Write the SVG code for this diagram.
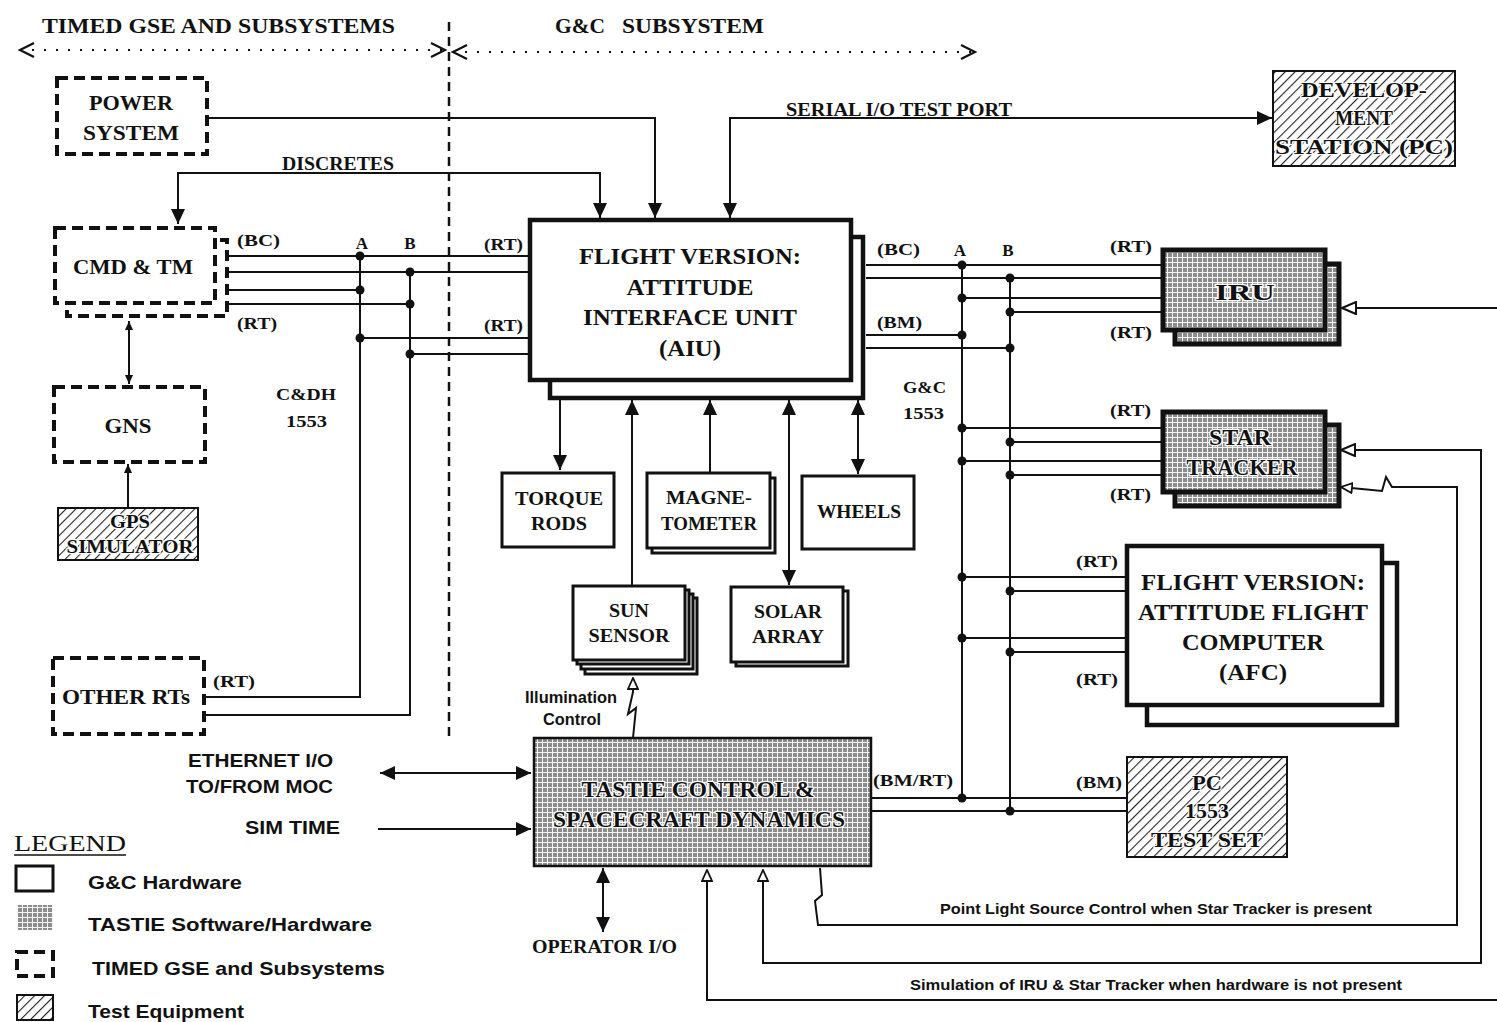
<svg xmlns="http://www.w3.org/2000/svg" width="1497" height="1022" viewBox="0 0 1497 1022">
<style>
.bg{fill:#fff}
.t{font-family:"Liberation Serif",serif;fill:#111}
.b{font-weight:bold}
.m{text-anchor:middle}
.sn{font-family:"Liberation Sans",sans-serif;font-weight:bold;fill:#111}
.halo{stroke:#fff;stroke-width:2.5px;paint-order:stroke;stroke-linejoin:round}
.ln{fill:none;stroke:#111;stroke-width:2}
.dash{fill:#fff;stroke:#111;stroke-width:4;stroke-dasharray:11 6}
.solid{fill:#fff;stroke:#111;stroke-width:3}
.thick{fill:#fff;stroke:#111;stroke-width:4.5}
.hat{fill:url(#hatch);stroke:#111;stroke-width:2}
.tx{fill:url(#tex);stroke:#111;stroke-width:2.5}
.txk{fill:url(#tex);stroke:#111;stroke-width:5}
.dot{fill:#111}
</style>
<defs>
<pattern id="hatch" width="7" height="7" patternUnits="userSpaceOnUse" patternTransform="rotate(45)"><rect width="7" height="7" fill="#fff"/><line x1="0" y1="0" x2="0" y2="7" stroke="#222" stroke-width="2.2"/></pattern>
<pattern id="tex" width="5" height="5" patternUnits="userSpaceOnUse"><rect width="5" height="5" fill="#8c8c8c"/><path d="M0,2.5H5M2.5,0V5" stroke="#f4f4f4" stroke-width="1"/></pattern>
<marker id="ah" viewBox="0 0 15 14" refX="15" refY="7" markerWidth="15" markerHeight="14" markerUnits="userSpaceOnUse" orient="auto-start-reverse"><path d="M0,0 L15,7 L0,14 z" fill="#111"/></marker>
<marker id="sah" viewBox="0 0 9 8" refX="9" refY="4" markerWidth="9" markerHeight="8" markerUnits="userSpaceOnUse" orient="auto-start-reverse"><path d="M0,0 L9,4 L0,8 z" fill="#111"/></marker>
<marker id="oah" viewBox="0 0 16 14" refX="15" refY="7" markerWidth="16" markerHeight="14" markerUnits="userSpaceOnUse" orient="auto-start-reverse"><path d="M1,1 L15,7 L1,13 z" fill="#fff" stroke="#111" stroke-width="2"/></marker>
<marker id="oahs" viewBox="0 0 13 12" refX="12" refY="6" markerWidth="13" markerHeight="12" markerUnits="userSpaceOnUse" orient="auto-start-reverse"><path d="M1,1 L12,6 L1,11 z" fill="#fff" stroke="#111" stroke-width="1.8"/></marker>
<marker id="chev" viewBox="0 0 18 18" refX="16" refY="9" markerWidth="18" markerHeight="18" markerUnits="userSpaceOnUse" orient="auto-start-reverse"><path d="M2,2 L16,9 L2,16" fill="none" stroke="#111" stroke-width="2.2"/></marker>
</defs>
<rect class="bg" width="1497" height="1022"/>

<g id="headers">
<text class="t b" x="42" y="33" font-size="22" textLength="353" lengthAdjust="spacingAndGlyphs">TIMED GSE AND SUBSYSTEMS</text>
<text class="t b" x="555" y="33" font-size="22" textLength="50" lengthAdjust="spacingAndGlyphs">G&amp;C</text>
<text class="t b" x="622" y="33" font-size="22" textLength="142" lengthAdjust="spacingAndGlyphs">SUBSYSTEM</text>
<path d="M20,50 H445" fill="none" stroke="#111" stroke-width="2.2" stroke-dasharray="2 10" marker-start="url(#chev)" marker-end="url(#chev)"/>
<path d="M453,52 H975" fill="none" stroke="#111" stroke-width="2.2" stroke-dasharray="2 10" marker-start="url(#chev)" marker-end="url(#chev)"/>
<path d="M449,22 V742" fill="none" stroke="#111" stroke-width="2.5" stroke-dasharray="9 6"/>
</g>

<g id="connectors">
<path class="ln" d="M208,118 H655 V218" marker-end="url(#ah)"/>
<path class="ln" d="M178,224 V173 H600 V218" marker-start="url(#ah)" marker-end="url(#ah)"/>
<path class="ln" d="M730,218 V118 H1272" marker-start="url(#ah)" marker-end="url(#ah)"/>
<text class="t b" x="282" y="170" font-size="18" textLength="112" lengthAdjust="spacingAndGlyphs">DISCRETES</text>
<text class="t b" x="786" y="116" font-size="18" textLength="226" lengthAdjust="spacingAndGlyphs">SERIAL I/O TEST PORT</text>

<path class="ln" d="M228,256 H530 M228,272 H530 M228,290 H360 M228,304 H410 M360,338 H530 M410,354 H530 M360,256 V697 H205 M410,272 V715 H205"/>
<g class="dot"><circle cx="360" cy="256" r="4.5"/><circle cx="410" cy="272" r="4.5"/><circle cx="360" cy="290" r="4.5"/><circle cx="410" cy="304" r="4.5"/><circle cx="360" cy="338" r="4.5"/><circle cx="410" cy="354" r="4.5"/></g>
<g class="t b" font-size="17">
<text x="237" y="246" textLength="43" lengthAdjust="spacingAndGlyphs">(BC)</text>
<text class="m" x="362" y="249">A</text>
<text class="m" x="410" y="249">B</text>
<text x="484" y="250" textLength="39" lengthAdjust="spacingAndGlyphs">(RT)</text>
<text x="237" y="329" textLength="40" lengthAdjust="spacingAndGlyphs">(RT)</text>
<text x="484" y="331" textLength="39" lengthAdjust="spacingAndGlyphs">(RT)</text>
<text x="276" y="400" textLength="60" lengthAdjust="spacingAndGlyphs">C&amp;DH</text>
<text x="286" y="427" textLength="41" lengthAdjust="spacingAndGlyphs">1553</text>
<text x="213" y="687" textLength="42" lengthAdjust="spacingAndGlyphs">(RT)</text>
</g>

<path class="ln" d="M866,265 H1163 M866,278 H1163 M962,298 H1163 M1010,312 H1163 M866,335 H962 M866,348 H1010 M962,428 H1163 M1010,442 H1163 M962,461 H1163 M1010,475 H1163 M962,577 H1127 M1010,591 H1127 M962,638 H1127 M1010,652 H1127 M871,798 H1127 M871,811 H1127 M962,265 V798 M1010,278 V811"/>
<g class="dot"><circle cx="962" cy="265" r="4.5"/><circle cx="1010" cy="278" r="4.5"/><circle cx="962" cy="298" r="4.5"/><circle cx="1010" cy="312" r="4.5"/><circle cx="962" cy="335" r="4.5"/><circle cx="1010" cy="348" r="4.5"/><circle cx="962" cy="428" r="4.5"/><circle cx="1010" cy="442" r="4.5"/><circle cx="962" cy="461" r="4.5"/><circle cx="1010" cy="475" r="4.5"/><circle cx="962" cy="577" r="4.5"/><circle cx="1010" cy="591" r="4.5"/><circle cx="962" cy="638" r="4.5"/><circle cx="1010" cy="652" r="4.5"/><circle cx="962" cy="798" r="4.5"/><circle cx="1010" cy="811" r="4.5"/></g>
<g class="t b" font-size="17">
<text x="877" y="255" textLength="43" lengthAdjust="spacingAndGlyphs">(BC)</text>
<text class="m" x="960" y="256">A</text>
<text class="m" x="1008" y="256">B</text>
<text x="1110" y="252" textLength="42" lengthAdjust="spacingAndGlyphs">(RT)</text>
<text x="877" y="328" textLength="45" lengthAdjust="spacingAndGlyphs">(BM)</text>
<text x="1110" y="338" textLength="42" lengthAdjust="spacingAndGlyphs">(RT)</text>
<text x="903" y="393" textLength="43" lengthAdjust="spacingAndGlyphs">G&amp;C</text>
<text x="903" y="419" textLength="41" lengthAdjust="spacingAndGlyphs">1553</text>
<text x="1110" y="416" textLength="41" lengthAdjust="spacingAndGlyphs">(RT)</text>
<text x="1110" y="500" textLength="41" lengthAdjust="spacingAndGlyphs">(RT)</text>
<text x="1076" y="567" textLength="42" lengthAdjust="spacingAndGlyphs">(RT)</text>
<text x="1076" y="685" textLength="42" lengthAdjust="spacingAndGlyphs">(RT)</text>
<text x="873" y="786" textLength="80" lengthAdjust="spacingAndGlyphs">(BM/RT)</text>
<text x="1076" y="788" textLength="46" lengthAdjust="spacingAndGlyphs">(BM)</text>
</g>

<path class="ln" d="M560,398 V470" marker-end="url(#ah)"/>
<path class="ln" d="M632,586 V400" marker-end="url(#ah)"/>
<path class="ln" d="M710,473 V400" marker-end="url(#ah)"/>
<path class="ln" d="M789,400 V585" marker-start="url(#ah)" marker-end="url(#ah)"/>
<path class="ln" d="M858,400 V474" marker-start="url(#ah)" marker-end="url(#ah)"/>
<path class="ln" d="M633,738 L636,708 L628,714 L633,692 L633,678" stroke-width="1.6" marker-end="url(#oahs)"/>
<text class="sn" x="525" y="703" font-size="16" textLength="92" lengthAdjust="spacingAndGlyphs">Illumination</text>
<text class="sn" x="543" y="725" font-size="16" textLength="58" lengthAdjust="spacingAndGlyphs">Control</text>

<path class="ln" d="M380,773 H531" marker-start="url(#ah)" marker-end="url(#ah)"/>
<path class="ln" d="M378,829 H531" stroke-width="1.5" marker-end="url(#ah)"/>
<path class="ln" d="M603,868 V932" marker-start="url(#ah)" marker-end="url(#ah)"/>
<text class="sn" x="188" y="767" font-size="18" textLength="145" lengthAdjust="spacingAndGlyphs">ETHERNET I/O</text>
<text class="sn" x="186" y="793" font-size="18" textLength="147" lengthAdjust="spacingAndGlyphs">TO/FROM MOC</text>
<text class="sn" x="245" y="834" font-size="18" textLength="95" lengthAdjust="spacingAndGlyphs">SIM TIME</text>
<text class="t b" x="532" y="953" font-size="18" textLength="145" lengthAdjust="spacingAndGlyphs">OPERATOR I/O</text>

<path class="ln" d="M1497,308 H1342" marker-end="url(#oah)"/>
<path class="ln" d="M1497,1000 H707 V870" marker-end="url(#oahs)"/>
<path class="ln" d="M1341,450 H1481 V963 H763 V870" marker-start="url(#oah)" marker-end="url(#oahs)"/>
<path class="ln" d="M820,868 L822,895 L815,901 L818,925 H1457 V487 H1392 L1386,477 L1382,491 L1341,487" marker-end="url(#oahs)"/>
<text class="sn" x="940" y="914" font-size="15" textLength="432" lengthAdjust="spacingAndGlyphs">Point Light Source Control when Star Tracker is present</text>
<text class="sn" x="910" y="990" font-size="15" textLength="492" lengthAdjust="spacingAndGlyphs">Simulation of IRU &amp; Star Tracker when hardware is not present</text>

<path class="ln" d="M129,321 V384" stroke-width="1.6" marker-start="url(#sah)" marker-end="url(#sah)"/>
<path class="ln" d="M128,508 V464" stroke-width="1.6" marker-end="url(#sah)"/>
</g>

<g id="power-system">
<rect class="dash" x="57" y="78" width="150" height="76"/>
<text class="t b m" x="131" y="110" font-size="22" textLength="84" lengthAdjust="spacingAndGlyphs">POWER</text>
<text class="t b m" x="131" y="140" font-size="22" textLength="96" lengthAdjust="spacingAndGlyphs">SYSTEM</text>
</g>

<g id="cmd-tm">
<rect class="dash" x="67" y="240" width="160" height="76"/>
<rect class="dash" x="55" y="228" width="160" height="75"/>
<text class="t b m" x="133" y="274" font-size="22" textLength="120" lengthAdjust="spacingAndGlyphs">CMD &amp; TM</text>
</g>

<g id="gns">
<rect class="dash" x="54" y="387" width="151" height="75"/>
<text class="t b m" x="128" y="433" font-size="22" textLength="47" lengthAdjust="spacingAndGlyphs">GNS</text>
</g>

<g id="gps-simulator">
<rect class="hat" x="58" y="508" width="140" height="52"/>
<text class="t b m halo" x="130" y="528" font-size="19" textLength="40" lengthAdjust="spacingAndGlyphs">GPS</text>
<text class="t b m halo" x="130" y="553" font-size="19" textLength="127" lengthAdjust="spacingAndGlyphs">SIMULATOR</text>
</g>

<g id="other-rts">
<rect class="dash" x="53" y="658" width="151" height="76"/>
<text class="t b m" x="126" y="704" font-size="22" textLength="128" lengthAdjust="spacingAndGlyphs">OTHER RTs</text>
</g>

<g id="development-station">
<rect class="hat" x="1273" y="71" width="182" height="95"/>
<text class="t b m halo" x="1364" y="97" font-size="21" textLength="126" lengthAdjust="spacingAndGlyphs">DEVELOP-</text>
<text class="t b m halo" x="1364" y="125" font-size="21" textLength="58" lengthAdjust="spacingAndGlyphs">MENT</text>
<text class="t b m halo" x="1364" y="154" font-size="21" textLength="178" lengthAdjust="spacingAndGlyphs">STATION (PC)</text>
</g>

<g id="aiu">
<rect class="thick" x="550" y="237" width="313" height="161" stroke-width="4"/>
<rect class="thick" x="530" y="220" width="321" height="160"/>
<text class="t b m" x="690" y="264" font-size="23" textLength="222" lengthAdjust="spacingAndGlyphs">FLIGHT VERSION:</text>
<text class="t b m" x="690" y="295" font-size="23" textLength="127" lengthAdjust="spacingAndGlyphs">ATTITUDE</text>
<text class="t b m" x="690" y="325" font-size="23" textLength="214" lengthAdjust="spacingAndGlyphs">INTERFACE UNIT</text>
<text class="t b m" x="690" y="356" font-size="23" textLength="62" lengthAdjust="spacingAndGlyphs">(AIU)</text>
</g>

<g id="torque-rods">
<rect class="solid" x="502" y="473" width="112" height="74"/>
<text class="t b m" x="559" y="505" font-size="19" textLength="88" lengthAdjust="spacingAndGlyphs">TORQUE</text>
<text class="t b m" x="559" y="530" font-size="19" textLength="56" lengthAdjust="spacingAndGlyphs">RODS</text>
</g>

<g id="magnetometer">
<rect class="solid" x="652" y="478" width="123" height="75" stroke-width="2"/>
<rect class="solid" x="647" y="473" width="123" height="75"/>
<text class="t b m" x="709" y="504" font-size="19" textLength="86" lengthAdjust="spacingAndGlyphs">MAGNE-</text>
<text class="t b m" x="709" y="530" font-size="19" textLength="96" lengthAdjust="spacingAndGlyphs">TOMETER</text>
</g>

<g id="wheels">
<rect class="solid" x="802" y="476" width="112" height="73"/>
<text class="t b m" x="859" y="518" font-size="19" textLength="84" lengthAdjust="spacingAndGlyphs">WHEELS</text>
</g>

<g id="sun-sensor">
<rect class="solid" x="585" y="598" width="112" height="76" stroke-width="2"/>
<rect class="solid" x="581" y="594" width="112" height="75" stroke-width="2"/>
<rect class="solid" x="577" y="590" width="112" height="74" stroke-width="2"/>
<rect class="solid" x="573" y="586" width="112" height="74"/>
<text class="t b m" x="629" y="617" font-size="19" textLength="40" lengthAdjust="spacingAndGlyphs">SUN</text>
<text class="t b m" x="629" y="642" font-size="19" textLength="81" lengthAdjust="spacingAndGlyphs">SENSOR</text>
</g>

<g id="solar-array">
<rect class="solid" x="736" y="591" width="112" height="75" stroke-width="2"/>
<rect class="solid" x="731" y="587" width="112" height="75"/>
<text class="t b m" x="788" y="618" font-size="19" textLength="68" lengthAdjust="spacingAndGlyphs">SOLAR</text>
<text class="t b m" x="788" y="643" font-size="19" textLength="72" lengthAdjust="spacingAndGlyphs">ARRAY</text>
</g>

<g id="tastie">
<rect class="tx" x="534" y="738" width="337" height="128"/>
<text class="t b m halo" x="698" y="797" font-size="23" textLength="233" lengthAdjust="spacingAndGlyphs">TASTIE CONTROL &amp;</text>
<text class="t b m halo" x="699" y="827" font-size="23" textLength="292" lengthAdjust="spacingAndGlyphs">SPACECRAFT DYNAMICS</text>
</g>

<g id="iru">
<rect class="txk" x="1175" y="264" width="164" height="80" stroke-width="4"/>
<rect class="txk" x="1163" y="250" width="162" height="80"/>
<text class="t b m halo" x="1245" y="300" font-size="24" textLength="60" lengthAdjust="spacingAndGlyphs">IRU</text>
</g>

<g id="star-tracker">
<rect class="txk" x="1175" y="425" width="164" height="81" stroke-width="4"/>
<rect class="txk" x="1163" y="412" width="162" height="80"/>
<text class="t b m halo" x="1240" y="445" font-size="23" textLength="62" lengthAdjust="spacingAndGlyphs">STAR</text>
<text class="t b m halo" x="1242" y="475" font-size="23" textLength="111" lengthAdjust="spacingAndGlyphs">TRACKER</text>
</g>

<g id="afc">
<rect class="thick" x="1147" y="563" width="250" height="162" stroke-width="4"/>
<rect class="thick" x="1127" y="546" width="255" height="159"/>
<text class="t b m" x="1253" y="590" font-size="23" textLength="224" lengthAdjust="spacingAndGlyphs">FLIGHT VERSION:</text>
<text class="t b m" x="1253" y="620" font-size="23" textLength="230" lengthAdjust="spacingAndGlyphs">ATTITUDE FLIGHT</text>
<text class="t b m" x="1253" y="650" font-size="23" textLength="142" lengthAdjust="spacingAndGlyphs">COMPUTER</text>
<text class="t b m" x="1253" y="680" font-size="23" textLength="68" lengthAdjust="spacingAndGlyphs">(AFC)</text>
</g>

<g id="pc-test-set">
<rect class="hat" x="1127" y="757" width="160" height="100"/>
<text class="t b m halo" x="1207" y="790" font-size="22" textLength="30" lengthAdjust="spacingAndGlyphs">PC</text>
<text class="t b m halo" x="1207" y="818" font-size="22" textLength="44" lengthAdjust="spacingAndGlyphs">1553</text>
<text class="t b m halo" x="1207" y="847" font-size="22" textLength="112" lengthAdjust="spacingAndGlyphs">TEST SET</text>
</g>

<g id="legend">
<text class="t" x="14" y="851" font-size="24" textLength="112" lengthAdjust="spacingAndGlyphs">LEGEND</text>
<line x1="14" y1="855" x2="126" y2="855" stroke="#111" stroke-width="1.5"/>
<rect class="solid" x="16" y="866" width="37" height="25" stroke-width="3.5"/>
<text class="sn" x="88" y="889" font-size="19" textLength="154" lengthAdjust="spacingAndGlyphs">G&amp;C Hardware</text>
<rect x="17" y="905" width="36" height="25" fill="url(#tex)"/>
<text class="sn" x="88" y="931" font-size="19" textLength="284" lengthAdjust="spacingAndGlyphs">TASTIE Software/Hardware</text>
<rect class="dash" x="17" y="952" width="36" height="24" stroke-width="3.5" stroke-dasharray="8 5"/>
<text class="sn" x="92" y="975" font-size="19" textLength="293" lengthAdjust="spacingAndGlyphs">TIMED GSE and Subsystems</text>
<rect class="hat" x="17" y="995" width="36" height="25"/>
<text class="sn" x="88" y="1018" font-size="19" textLength="156" lengthAdjust="spacingAndGlyphs">Test Equipment</text>
</g>
</svg>
